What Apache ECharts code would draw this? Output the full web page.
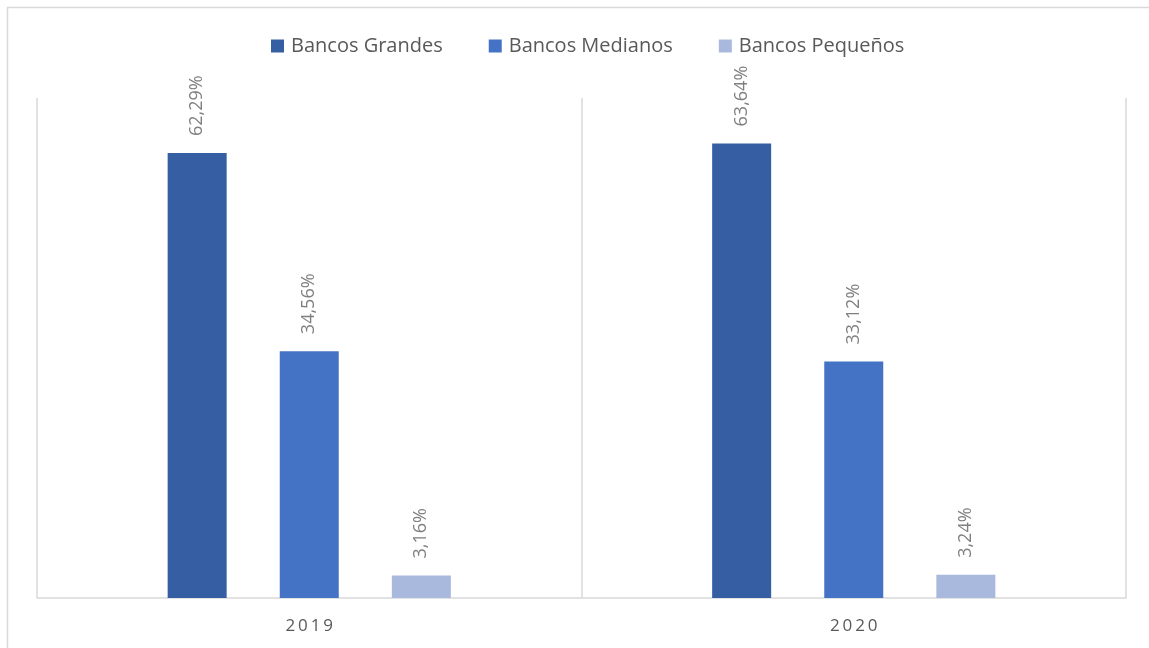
<!DOCTYPE html>
<html>
<head>
<meta charset="utf-8">
<script src="https://cdn.jsdelivr.net/npm/echarts@6/dist/echarts.min.js"></script>
<style>html,body{margin:0;padding:0;background:#fff;}#c{width:1149px;height:648px;}</style>
</head>
<body>
<div id="c"></div>
<script>
var categories = ['2019', '2020'];
var seriesNames = ['Bancos Grandes', 'Bancos Medianos', 'Bancos Pequeños'];
var grandes = [62.29, 63.64];
var medianos = [34.56, 33.12];
var pequenos = [3.16, 3.24];
var colors = ['#355EA3', '#4472C4', '#A9B8DD'];

var chart = echarts.init(document.getElementById('c'));
var font = '"Open Sans", "Noto Sans", sans-serif';
function mk(name, data, color) {
  return {
    name: name, type: 'bar', data: data, barWidth: 59, barGap: '90%',
    itemStyle: { color: color },
    label: {
      show: true, position: 'top', rotate: 90, align: 'left', verticalAlign: 'middle',
      distance: 17, color: '#7F7F7F', fontSize: 18, fontFamily: font,
      formatter: function (p) { return p.value.toFixed(2).replace('.', ',') + '%'; }
    }
  };
}
chart.setOption({
  animation: false,
  color: colors,
  graphic: [{ type: 'rect', shape: { x: 7.5, y: 7.5, width: 1150, height: 660 }, style: { fill: 'none', stroke: '#D9D9D9', lineWidth: 1.5 }, silent: true }],
  legend: {
    top: 31, left: 266, itemWidth: 13, itemHeight: 13, itemGap: 46,
    icon: 'rect',
    textStyle: { fontSize: 20, color: '#595959', fontFamily: font, padding: [0, 0, 0, 2] },
    data: seriesNames
  },
  grid: { left: 37, right: 23, top: 98, bottom: 50 },
  xAxis: {
    type: 'category', data: categories,
    axisLine: { lineStyle: { color: '#D9D9D9', width: 1.5 } },
    axisTick: { show: false },
    splitLine: { show: true, lineStyle: { color: '#D9D9D9', width: 1.5 } },
    axisLabel: { fontSize: 17, color: '#595959', fontFamily: font, margin: 20,
      formatter: function (v) { return v.split('').join('\u2009'); } }
  },
  yAxis: { type: 'value', min: 0, max: 70, show: false, splitLine: { show: false } },
  series: [mk(seriesNames[0], grandes, colors[0]), mk(seriesNames[1], medianos, colors[1]), mk(seriesNames[2], pequenos, colors[2])]
});
</script>
</body>
</html>
